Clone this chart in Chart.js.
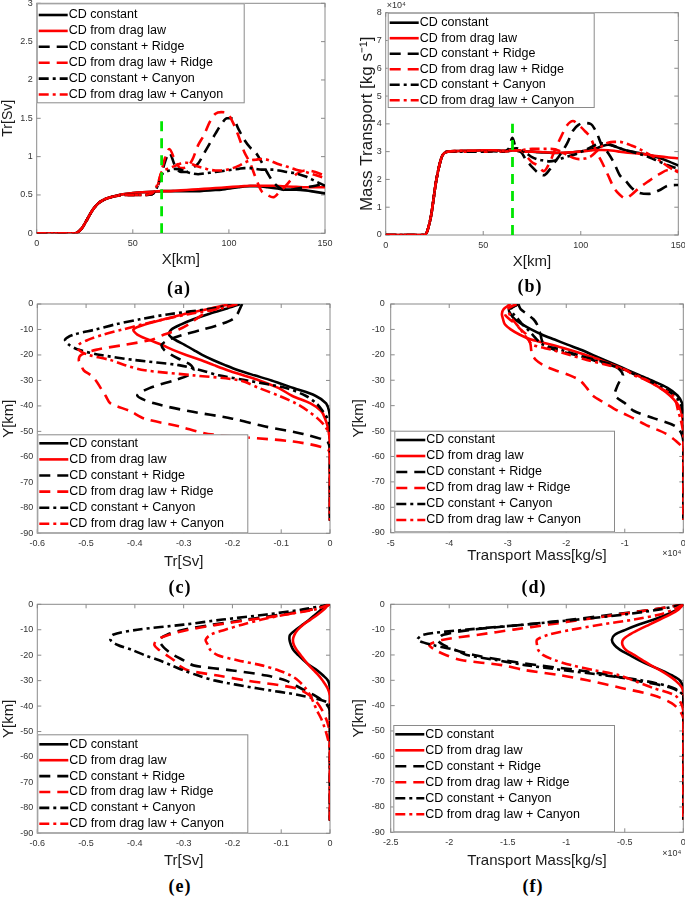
<!DOCTYPE html>
<html>
<head>
<meta charset="utf-8">
<script src="https://cdn.jsdelivr.net/npm/chart.js@4.4.0/dist/chart.umd.min.js"></script>
<style>
html, body { margin: 0; padding: 0; background: #fff; width: 685px; height: 898px; overflow: hidden; position: relative; }
canvas { position: absolute; }
.tag { position: absolute; font: bold 18px "Liberation Serif", "Times New Roman", serif; letter-spacing: 1px; transform: translate(-50%, -50%); color: #000; }
</style>
</head>
<body>
<canvas id="panelA"></canvas>
<canvas id="panelB"></canvas>
<canvas id="panelC"></canvas>
<canvas id="panelD"></canvas>
<canvas id="panelE"></canvas>
<canvas id="panelF"></canvas>
<div class="tag" style="left:179px;top:288px">(a)</div>
<div class="tag" style="left:530px;top:286px">(b)</div>
<div class="tag" style="left:180px;top:587px">(c)</div>
<div class="tag" style="left:534px;top:587px">(d)</div>
<div class="tag" style="left:180px;top:886px">(e)</div>
<div class="tag" style="left:533px;top:886px">(f)</div>
<script>
const seriesNames = ['CD constant', 'CD from drag law', 'CD constant + Ridge', 'CD from drag law + Ridge', 'CD constant + Canyon', 'CD from drag law + Canyon'];

// (a) and (b): along-channel distance
const xKm = [0, 10, 20, 23, 26, 29, 32, 36, 40, 45, 50, 55, 60, 63, 65, 67, 69, 72, 75, 78, 81, 84, 87, 90, 93, 96, 99, 102, 105, 108, 111, 114, 117, 120, 123, 126, 130, 135, 140, 145, 150];

// (a) Tr [Sv]
const aConst = [0, 0, 0, 0.05, 0.17, 0.3, 0.39, 0.45, 0.48, 0.51, 0.525, 0.535, 0.54,
  0.545, 0.55, 0.55, 0.55, 0.55, 0.55, 0.55, 0.55, 0.55, 0.555, 0.56, 0.565, 0.57, 0.58, 0.59, 0.6, 0.61, 0.615, 0.615, 0.61, 0.6, 0.59, 0.58, 0.57, 0.57, 0.56, 0.54, 0.52];
const aDrag = [0, 0, 0, 0.05, 0.17, 0.3, 0.39, 0.45, 0.48, 0.51, 0.525, 0.535, 0.54,
  0.548, 0.55, 0.55, 0.55, 0.555, 0.56, 0.565, 0.57, 0.575, 0.58, 0.585, 0.59, 0.595, 0.6, 0.605, 0.61, 0.615, 0.62, 0.62, 0.62, 0.62, 0.62, 0.615, 0.61, 0.605, 0.6, 0.6, 0.6];
const aConstRidge = [0, 0, 0, 0.05, 0.17, 0.3, 0.39, 0.45, 0.48, 0.5, 0.5, 0.5, 0.51,
  0.62, 0.78, 0.95, 1.05, 0.88, 0.8, 0.8, 0.85, 0.91, 1.04, 1.17, 1.3, 1.42, 1.5, 1.5, 1.36, 1.22, 1.12, 1.05, 0.93, 0.79, 0.67, 0.6, 0.56, 0.58, 0.6, 0.62, 0.65];
const aDragRidge = [0, 0, 0, 0.05, 0.17, 0.3, 0.39, 0.45, 0.48, 0.5, 0.5, 0.5, 0.51,
  0.63, 0.82, 1.0, 1.1, 0.95, 0.85, 0.86, 0.96, 1.15, 1.28, 1.45, 1.56, 1.58, 1.57, 1.45, 1.27, 1.06, 0.92, 0.72, 0.55, 0.5, 0.47, 0.53, 0.63, 0.77, 0.82, 0.8, 0.75];
const aConstCanyon = [0, 0, 0, 0.05, 0.17, 0.3, 0.39, 0.45, 0.48, 0.5, 0.5, 0.5, 0.51,
  0.62, 0.76, 0.8, 0.82, 0.84, 0.83, 0.8, 0.78, 0.77, 0.78, 0.79, 0.8, 0.81, 0.82, 0.83, 0.84, 0.85, 0.85, 0.84, 0.83, 0.83, 0.83, 0.82, 0.8, 0.78, 0.74, 0.68, 0.62];
const aDragCanyon = [0, 0, 0, 0.05, 0.17, 0.3, 0.39, 0.45, 0.48, 0.5, 0.5, 0.5, 0.52,
  0.65, 0.8, 0.83, 0.85, 0.88, 0.91, 0.92, 0.9, 0.87, 0.85, 0.83, 0.82, 0.82, 0.83, 0.85, 0.88, 0.92, 0.95, 0.96, 0.97, 0.96, 0.93, 0.9, 0.87, 0.83, 0.8, 0.76, 0.72];

// (b) mass transport [x1e4 kg/s]
const bConst = [0, 0, 0, 0.6, 2.0, 2.85, 3.0, 3.02, 3.03, 3.03, 3.05, 3.05, 3.03,
  3.02, 3.05, 3.05, 3.02, 3.0, 3.0, 2.98, 2.97, 2.96, 2.95, 2.95, 2.96, 2.98, 3.0, 3.03, 3.07, 3.12, 3.2, 3.25, 3.2, 3.12, 3.05, 3.0, 2.95, 2.88, 2.78, 2.65, 2.5];
const bDrag = [0, 0, 0, 0.6, 2.0, 2.85, 3.0, 3.02, 3.03, 3.03, 3.05, 3.05, 3.03,
  3.03, 3.05, 3.03, 3.02, 3.0, 3.0, 2.99, 2.98, 2.97, 2.96, 2.96, 2.97, 2.98, 3.0, 3.02, 3.04, 3.06, 3.06, 3.05, 3.03, 3.0, 2.97, 2.95, 2.93, 2.88, 2.83, 2.79, 2.76];
const bConstRidge = [0, 0, 0, 0.6, 2.0, 2.85, 3.0, 3.0, 3.0, 3.0, 3.0, 3.02, 3.0,
  3.1, 3.5, 3.05, 3.0, 2.7, 2.45, 2.25, 2.15, 2.35, 2.65, 2.95, 3.3, 3.75, 3.97, 4.03, 4.0, 3.7, 3.2, 2.95, 2.6, 2.15, 1.95, 1.7, 1.52, 1.48, 1.6, 1.78, 1.8];
const bDragRidge = [0, 0, 0, 0.6, 2.0, 2.85, 3.0, 3.0, 3.0, 3.0, 3.0, 3.02, 3.0,
  3.02, 3.2, 3.05, 3.05, 2.85, 2.62, 2.5, 2.3, 2.6, 3.1, 3.55, 3.95, 4.1, 3.95, 3.75, 3.5, 3.0, 2.6, 2.15, 1.7, 1.45, 1.32, 1.45, 1.7, 1.95, 2.18, 2.34, 2.3];
const bConstCanyon = [0, 0, 0, 0.6, 2.0, 2.85, 3.0, 3.0, 3.0, 3.0, 3.0, 3.02, 3.0,
  3.05, 3.1, 3.12, 3.08, 2.95, 2.8, 2.72, 2.68, 2.65, 2.68, 2.75, 2.82, 2.88, 2.95, 3.05, 3.15, 3.25, 3.3, 3.28, 3.2, 3.12, 3.05, 3.0, 2.92, 2.8, 2.65, 2.5, 2.38];
const bDragCanyon = [0, 0, 0, 0.6, 2.0, 2.85, 3.0, 3.02, 3.03, 3.03, 3.05, 3.05, 3.02,
  3.05, 3.05, 3.05, 3.05, 3.08, 3.1, 3.1, 3.1, 3.1, 3.08, 3.0, 2.88, 2.78, 2.73, 2.75, 2.82, 3.0, 3.2, 3.32, 3.35, 3.35, 3.3, 3.22, 3.1, 2.9, 2.7, 2.45, 2.25];

// ridge position marker (green)
const markerX = [65, 65];
const aMarkerY = [0, 1.5];
const bMarkerY = [0, 4];

// (c)-(f): cross-channel profiles
const depthKm = [0, -2, -4, -6, -8, -10, -12, -14, -16, -18, -20, -22, -24, -26, -28, -30, -33, -36, -39, -42, -45, -48, -51, -54, -57, -60, -70, -85];

const cConst = [-0.184, -0.215, -0.25, -0.28, -0.305, -0.325, -0.33, -0.318, -0.298, -0.28, -0.262, -0.24, -0.215, -0.188, -0.155, -0.12, -0.075, -0.03, -0.008, -0.002, 0, 0, 0, 0, 0, 0, 0, 0];
const cDrag = [-0.205, -0.25, -0.3, -0.34, -0.378, -0.403, -0.395, -0.372, -0.345, -0.322, -0.295, -0.265, -0.238, -0.21, -0.178, -0.145, -0.105, -0.078, -0.04, -0.018, -0.01, -0.005, -0.002, 0, 0, 0, 0, 0];
const cConstRidge = [-0.18, -0.185, -0.19, -0.2, -0.225, -0.26, -0.3, -0.33, -0.345, -0.34, -0.325, -0.305, -0.285, -0.28, -0.29, -0.32, -0.37, -0.395, -0.36, -0.29, -0.2, -0.135, -0.055, -0.006, 0, 0, 0, 0];
const cDragRidge = [-0.19, -0.235, -0.26, -0.275, -0.29, -0.31, -0.34, -0.365, -0.42, -0.48, -0.51, -0.515, -0.51, -0.505, -0.49, -0.48, -0.47, -0.46, -0.45, -0.41, -0.38, -0.31, -0.25, -0.075, -0.005, 0, 0, 0];
const cConstCanyon = [-0.19, -0.25, -0.33, -0.39, -0.44, -0.48, -0.525, -0.543, -0.535, -0.515, -0.47, -0.4, -0.31, -0.265, -0.228, -0.17, -0.09, -0.05, -0.028, -0.015, -0.005, 0, 0, 0, 0, 0, 0, 0];
const cDragCanyon = [-0.19, -0.23, -0.29, -0.34, -0.385, -0.425, -0.465, -0.495, -0.515, -0.515, -0.495, -0.45, -0.42, -0.38, -0.28, -0.185, -0.145, -0.105, -0.07, -0.045, -0.025, -0.01, -0.002, 0, 0, 0, 0, 0];

const dConst = [-2.82, -2.98, -2.95, -2.88, -2.75, -2.6, -2.42, -2.2, -1.98, -1.75, -1.55, -1.35, -1.15, -0.95, -0.75, -0.55, -0.27, -0.1, -0.02, 0, 0, 0, 0, 0, 0, 0, 0, 0];
const dDrag = [-2.95, -3.07, -3.1, -3.08, -3.05, -2.95, -2.8, -2.6, -2.25, -1.95, -1.68, -1.42, -1.2, -0.99, -0.8, -0.63, -0.4, -0.23, -0.11, -0.04, -0.015, 0, 0, 0, 0, 0, 0, 0];
const dConstRidge = [-2.82, -2.78, -2.67, -2.56, -2.5, -2.47, -2.44, -2.42, -2.38, -2.2, -1.85, -1.5, -1.2, -1.08, -1.03, -1.08, -1.14, -1.17, -1.0, -0.85, -0.5, -0.14, -0.03, 0, 0, 0, 0, 0];
const dDragRidge = [-2.82, -3.0, -3.05, -2.97, -2.86, -2.78, -2.68, -2.64, -2.61, -2.6, -2.58, -2.52, -2.4, -2.2, -1.95, -1.77, -1.65, -1.55, -1.34, -1.12, -0.85, -0.6, -0.3, -0.12, 0, 0, 0, 0];
const dConstCanyon = [-2.82, -2.95, -2.9, -2.82, -2.75, -2.66, -2.58, -2.5, -2.4, -2.1, -1.82, -1.55, -1.25, -1.0, -0.8, -0.6, -0.35, -0.15, -0.05, -0.01, 0, 0, 0, 0, 0, 0, 0, 0];
const dDragCanyon = [-2.85, -3.0, -2.97, -2.92, -2.85, -2.78, -2.72, -2.65, -2.58, -2.25, -1.95, -1.65, -1.3, -0.98, -0.85, -0.62, -0.4, -0.18, -0.12, -0.09, -0.05, -0.02, 0, 0, 0, 0, 0, 0];

const eConst = [-0.005, -0.018, -0.03, -0.042, -0.056, -0.07, -0.082, -0.083, -0.08, -0.075, -0.065, -0.054, -0.042, -0.026, -0.014, -0.004, 0, 0, 0, 0, 0, 0, 0, 0, 0, 0, 0, 0];
const eDrag = [-0.003, -0.012, -0.025, -0.04, -0.055, -0.066, -0.073, -0.076, -0.074, -0.068, -0.06, -0.052, -0.043, -0.033, -0.023, -0.015, -0.005, 0, 0, 0, 0, 0, 0, 0, 0, 0, 0, 0];
const eConstRidge = [0, -0.04, -0.1, -0.17, -0.24, -0.3, -0.335, -0.35, -0.345, -0.335, -0.32, -0.3, -0.28, -0.2, -0.13, -0.09, -0.06, -0.03, -0.008, 0, 0, 0, 0, 0, 0, 0, 0, 0];
const eDragRidge = [0, -0.035, -0.09, -0.16, -0.23, -0.29, -0.33, -0.355, -0.36, -0.35, -0.335, -0.32, -0.31, -0.29, -0.23, -0.17, -0.07, -0.04, -0.025, -0.015, -0.008, -0.003, 0, 0, 0, 0, 0, 0];
const eConstCanyon = [0, -0.055, -0.13, -0.22, -0.3, -0.395, -0.445, -0.45, -0.435, -0.405, -0.38, -0.35, -0.325, -0.3, -0.27, -0.235, -0.15, -0.055, 0, 0, 0, 0, 0, 0, 0, 0, 0, 0];
const eDragCanyon = [0, -0.03, -0.09, -0.14, -0.18, -0.215, -0.245, -0.255, -0.25, -0.245, -0.23, -0.19, -0.14, -0.105, -0.08, -0.065, -0.05, -0.04, -0.033, -0.026, -0.018, -0.012, -0.007, -0.003, 0, 0, 0, 0];

const fConst = [0, -0.05, -0.14, -0.25, -0.38, -0.49, -0.585, -0.61, -0.59, -0.54, -0.46, -0.38, -0.29, -0.19, -0.1, -0.03, 0, 0, 0, 0, 0, 0, 0, 0, 0, 0, 0, 0];
const fDrag = [0, -0.04, -0.11, -0.2, -0.29, -0.38, -0.46, -0.515, -0.52, -0.49, -0.42, -0.35, -0.28, -0.2, -0.13, -0.07, -0.01, 0, 0, 0, 0, 0, 0, 0, 0, 0, 0, 0];
const fConstRidge = [0, -0.25, -0.6, -0.95, -1.35, -1.8, -2.05, -2.1, -2.05, -1.95, -1.79, -1.55, -1.25, -0.9, -0.62, -0.42, -0.1, 0, 0, 0, 0, 0, 0, 0, 0, 0, 0, 0];
const fDragRidge = [0, -0.25, -0.55, -0.85, -1.15, -1.45, -1.75, -2.05, -2.17, -2.12, -2.03, -1.9, -1.55, -1.35, -1.05, -0.82, -0.53, -0.25, -0.1, -0.03, 0, 0, 0, 0, 0, 0, 0, 0];
const fConstCanyon = [0, -0.2, -0.5, -0.9, -1.35, -1.85, -2.22, -2.27, -2.15, -1.95, -1.85, -1.6, -1.35, -1.02, -0.68, -0.36, -0.085, 0, 0, 0, 0, 0, 0, 0, 0, 0, 0, 0];
const fDragCanyon = [0, -0.08, -0.2, -0.42, -0.7, -0.95, -1.15, -1.25, -1.25, -1.24, -1.2, -1.1, -0.96, -0.76, -0.55, -0.43, -0.26, -0.07, -0.02, 0, 0, 0, 0, 0, 0, 0, 0, 0];

// tick labels
const kmTicks = [0, 50, 100, 150];
const aYTicks = [0, 0.5, 1, 1.5, 2, 2.5, 3];
const bYTicks = [0, 1, 2, 3, 4, 5, 6, 7, 8];
const depthTicks = [0, -10, -20, -30, -40, -50, -60, -70, -80, -90];
const trTicks = [-0.6, -0.5, -0.4, -0.3, -0.2, -0.1, 0];
const dXTicks = [-5, -4, -3, -2, -1, 0];
const fXTicks = [-2.5, -2, -1.5, -1, -0.5, 0];

Chart.defaults.font.family = '"Liberation Sans", Arial, Helvetica, sans-serif';
Chart.defaults.color = '#333';

const lineStyles = [
  { color: '#000000', dash: [] },
  { color: '#ff0000', dash: [] },
  { color: '#000000', dash: [11, 7] },
  { color: '#ff0000', dash: [11, 7] },
  { color: '#000000', dash: [10, 4, 3, 4] },
  { color: '#ff0000', dash: [10, 4, 3, 4] }
];

function makeSets(series, vertical) {
  return series.map((vals, i) => ({
    label: seriesNames[i],
    data: vals.map((v, k) => vertical ? { x: v, y: depthKm[k] } : { x: xKm[k], y: v }),
    borderColor: lineStyles[i].color,
    borderDash: lineStyles[i].dash,
    borderWidth: 2.6,
    pointRadius: 0,
    fill: false,
    order: 10 - i,
    tension: vertical ? 0.3 : 0,
    cubicInterpolationMode: vertical ? 'default' : 'monotone'
  }));
}

function markerSet(ys) {
  return {
    label: '',
    data: markerX.map((x, k) => ({ x: x, y: ys[k] })),
    borderColor: '#00e600',
    borderDash: [10, 7],
    borderWidth: 2.8,
    pointRadius: 0,
    order: 0
  };
}

// axes box with inward ticks, legend box and exponent label
const frame = {
  id: 'frame',
  beforeDatasetsDraw(chart) {
    const { ctx, chartArea: a } = chart;
    const x = chart.scales.x, y = chart.scales.y;
    ctx.save();
    ctx.strokeStyle = '#8a8a8a';
    ctx.lineWidth = 1;
    ctx.strokeRect(a.left, a.top, a.right - a.left, a.bottom - a.top);
    ctx.beginPath();
    x.ticks.forEach(t => {
      const p = x.getPixelForValue(t.value);
      ctx.moveTo(p, a.bottom); ctx.lineTo(p, a.bottom - 4);
      ctx.moveTo(p, a.top); ctx.lineTo(p, a.top + 4);
    });
    y.ticks.forEach(t => {
      const p = y.getPixelForValue(t.value);
      ctx.moveTo(a.left, p); ctx.lineTo(a.left + 4, p);
      ctx.moveTo(a.right, p); ctx.lineTo(a.right - 4, p);
    });
    ctx.stroke();
    ctx.restore();
  },
  afterDatasetsDraw(chart, args, opts) {
    const { ctx, chartArea: a } = chart;
    const lg = opts.legend;
    ctx.save();
    if (lg) {
      const bx = a.left + lg.dx, by = a.top + lg.dy;
      ctx.fillStyle = '#fff';
      ctx.fillRect(bx, by, lg.w, lg.h);
      ctx.strokeStyle = '#8a8a8a';
      ctx.lineWidth = 1;
      ctx.strokeRect(bx + 0.5, by + 0.5, lg.w - 1, lg.h - 1);
      ctx.font = '12.5px "Liberation Sans", Arial, sans-serif';
      ctx.textBaseline = 'middle';
      ctx.textAlign = 'left';
      chart.data.datasets.filter(d => d.label).forEach((d, i) => {
        const yy = by + lg.row0 + i * lg.step;
        ctx.setLineDash(d.borderDash);
        ctx.strokeStyle = d.borderColor;
        ctx.lineWidth = d.borderWidth;
        ctx.beginPath();
        ctx.moveTo(bx + 2, yy);
        ctx.lineTo(bx + 31, yy);
        ctx.stroke();
        ctx.setLineDash([]);
        ctx.fillStyle = '#000';
        ctx.fillText(d.label, bx + 32, yy);
      });
    }
    if (opts.exp) {
      ctx.font = '9px "Liberation Sans", Arial, sans-serif';
      ctx.fillStyle = '#333';
      ctx.textBaseline = 'middle';
      if (opts.exp === 'top') {
        ctx.textAlign = 'left';
        ctx.fillText('×10⁴', a.left + 1, a.top - 7);
      } else {
        ctx.textAlign = 'right';
        ctx.fillText('×10⁴', a.right - 2, a.bottom + 21);
      }
    }
    ctx.restore();
  }
};

const fmt = v => String(Math.round(v * 100) / 100);
const useTicks = arr => axis => { axis.ticks = arr.map(v => ({ value: v })); };

function panel(id, cfg) {
  const cv = document.getElementById(id);
  const c = cfg.canvas, a = cfg.area;
  cv.style.left = c[0] + 'px';
  cv.style.top = c[1] + 'px';
  cv.width = c[2] - c[0];
  cv.height = c[3] - c[1];
  new Chart(cv, {
    type: 'line',
    data: { datasets: cfg.datasets },
    options: {
      responsive: false,
      animation: false,
      devicePixelRatio: 1,
      layout: { padding: { left: 0, top: a[1] - c[1], right: c[2] - a[2], bottom: 0 } },
      plugins: {
        legend: { display: false },
        tooltip: { enabled: false },
        frame: { legend: cfg.legend, exp: cfg.exp }
      },
      scales: {
        x: {
          type: 'linear',
          min: Math.min(...cfg.xTicks),
          max: Math.max(...cfg.xTicks),
          afterBuildTicks: useTicks(cfg.xTicks),
          afterFit: s => { s.height = c[3] - a[3]; },
          grid: { display: false, drawTicks: false },
          border: { display: false },
          ticks: { font: { size: 9 }, padding: 5, callback: fmt, autoSkip: false, maxRotation: 0 },
          title: { display: true, text: cfg.xTitle, font: { size: 15 }, padding: 0, color: '#1a1a1a' }
        },
        y: {
          type: 'linear',
          min: Math.min(...cfg.yTicks),
          max: Math.max(...cfg.yTicks),
          afterBuildTicks: useTicks(cfg.yTicks),
          afterFit: s => { s.width = a[0] - c[0]; },
          grid: { display: false, drawTicks: false },
          border: { display: false },
          ticks: { font: { size: 9 }, padding: cfg.yPad, callback: fmt, autoSkip: false },
          title: { display: true, text: cfg.yTitle, font: { size: cfg.yTitleSize }, padding: 0, color: '#1a1a1a' }
        }
      }
    },
    plugins: [frame]
  });
}

panel('panelA', {
  canvas: [0, -10, 345, 269], area: [36.7, 3.3, 325, 233.3],
  datasets: makeSets([aConst, aDrag, aConstRidge, aDragRidge, aConstCanyon, aDragCanyon], false).concat([markerSet(aMarkerY)]),
  xTicks: kmTicks, yTicks: aYTicks, xTitle: 'X[km]', yTitle: 'Tr[Sv]', yTitleSize: 14, yPad: 4,
  legend: { dx: 0, dy: 0, w: 208, h: 100, row0: 11.7, step: 15.9 }
});
panel('panelB', {
  canvas: [357, -10, 700, 271], area: [385.7, 12.7, 678.3, 235],
  datasets: makeSets([bConst, bDrag, bConstRidge, bDragRidge, bConstCanyon, bDragCanyon], false).concat([markerSet(bMarkerY)]),
  xTicks: kmTicks, yTicks: bYTicks, xTitle: 'X[km]', yTitle: 'Mass Transport [kg s⁻¹]', yTitleSize: 17, yPad: 4,
  legend: { dx: 2, dy: 0, w: 207, h: 95.3, row0: 10, step: 15.5 }, exp: 'top'
});
panel('panelC', {
  canvas: [0, 290, 345, 571], area: [37.3, 304, 330, 533.3],
  datasets: makeSets([cConst, cDrag, cConstRidge, cDragRidge, cConstCanyon, cDragCanyon], true),
  xTicks: trTicks, yTicks: depthTicks, xTitle: 'Tr[Sv]', yTitle: 'Y[km]', yTitleSize: 15, yPad: 4,
  legend: { dx: 0, dy: 130.3, w: 211, h: 99, row0: 9, step: 16.1 }
});
panel('panelD', {
  canvas: [350, 290, 700, 565], area: [390.7, 304, 683.3, 532.7],
  datasets: makeSets([dConst, dDrag, dConstRidge, dDragRidge, dConstCanyon, dDragCanyon], true),
  xTicks: dXTicks, yTicks: depthTicks, xTitle: 'Transport Mass[kg/s]', yTitle: 'Y[km]', yTitleSize: 15, yPad: 6,
  legend: { dx: 3.6, dy: 126.7, w: 220.7, h: 101.6, row0: 9.3, step: 16 }, exp: 'bottom'
});
panel('panelE', {
  canvas: [0, 590, 345, 870], area: [37.3, 604.3, 330, 833.3],
  datasets: makeSets([eConst, eDrag, eConstRidge, eDragRidge, eConstCanyon, eDragCanyon], true),
  xTicks: trTicks, yTicks: depthTicks, xTitle: 'Tr[Sv]', yTitle: 'Y[km]', yTitleSize: 15, yPad: 4,
  legend: { dx: 0, dy: 130, w: 211, h: 99, row0: 10, step: 15.9 }
});
panel('panelF', {
  canvas: [350, 590, 700, 870], area: [390.7, 604.3, 683.3, 832.3],
  datasets: makeSets([fConst, fDrag, fConstRidge, fDragRidge, fConstCanyon, fDragCanyon], true),
  xTicks: fXTicks, yTicks: depthTicks, xTitle: 'Transport Mass[kg/s]', yTitle: 'Y[km]', yTitleSize: 15, yPad: 6,
  legend: { dx: 2.6, dy: 120.7, w: 221.7, h: 107.3, row0: 9.3, step: 16 }, exp: 'bottom'
});
</script>
</body>
</html>
